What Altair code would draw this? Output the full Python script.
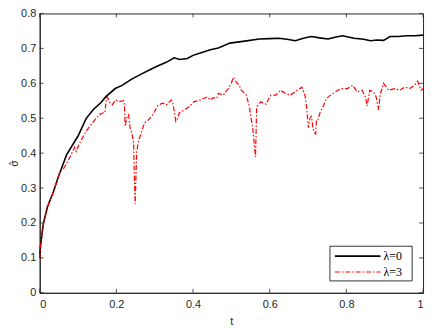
import altair as alt
import pandas as pd

# lambda = 0 (black solid)
t0 = [0.000, 0.002, 0.006, 0.010, 0.020, 0.036, 0.049, 0.070, 0.100, 0.121, 0.140, 0.160,
      0.172, 0.197, 0.215, 0.240, 0.266, 0.290, 0.309, 0.330, 0.351, 0.365, 0.385, 0.400,
      0.419, 0.445, 0.466, 0.496, 0.530, 0.573, 0.600, 0.624, 0.645, 0.667, 0.690, 0.709,
      0.730, 0.752, 0.770, 0.790, 0.820, 0.845, 0.863, 0.880, 0.897, 0.914, 0.935, 0.957,
      0.980, 1.000]
s0 = [0.100, 0.132, 0.170, 0.200, 0.245, 0.290, 0.333, 0.395, 0.449, 0.499, 0.525, 0.545,
      0.561, 0.585, 0.594, 0.612, 0.627, 0.640, 0.650, 0.660, 0.673, 0.668, 0.671, 0.680,
      0.687, 0.696, 0.701, 0.715, 0.720, 0.727, 0.728, 0.729, 0.726, 0.722, 0.730, 0.734,
      0.730, 0.727, 0.732, 0.736, 0.729, 0.726, 0.722, 0.724, 0.723, 0.734, 0.734, 0.736,
      0.736, 0.738]

# lambda = 3 (red dash-dot)
t3 = [0.000, 0.002, 0.006, 0.010, 0.020, 0.036, 0.049, 0.053, 0.060, 0.070, 0.083, 0.091,
      0.095, 0.105, 0.121, 0.140, 0.155, 0.164, 0.170, 0.174, 0.176, 0.183, 0.189, 0.198,
      0.210, 0.219, 0.221, 0.223, 0.228, 0.232, 0.236, 0.240, 0.245, 0.247, 0.249, 0.251,
      0.253, 0.257, 0.262, 0.268, 0.274, 0.283, 0.292, 0.300, 0.309, 0.321, 0.330, 0.343,
      0.347, 0.351, 0.355, 0.360, 0.364, 0.377, 0.390, 0.402, 0.419, 0.437, 0.445, 0.453,
      0.462, 0.466, 0.479, 0.492, 0.500, 0.505, 0.513, 0.520, 0.526, 0.539, 0.547, 0.556,
      0.563, 0.566, 0.577, 0.590, 0.603, 0.616, 0.628, 0.641, 0.654, 0.671, 0.684, 0.692,
      0.696, 0.701, 0.705, 0.709, 0.713, 0.716, 0.720, 0.722, 0.726, 0.731, 0.739, 0.748,
      0.765, 0.786, 0.803, 0.816, 0.829, 0.841, 0.850, 0.854, 0.861, 0.871, 0.878, 0.884,
      0.888, 0.897, 0.910, 0.927, 0.939, 0.952, 0.965, 0.978, 0.986, 0.995, 1.000]
s3 = [0.100, 0.132, 0.170, 0.200, 0.245, 0.290, 0.333, 0.348, 0.352, 0.370, 0.398, 0.417,
      0.405, 0.430, 0.463, 0.490, 0.510, 0.515, 0.515, 0.557, 0.561, 0.545, 0.538, 0.552,
      0.548, 0.550, 0.540, 0.477, 0.505, 0.510, 0.470, 0.459, 0.430, 0.330, 0.254, 0.330,
      0.403, 0.430, 0.449, 0.470, 0.487, 0.495, 0.505, 0.520, 0.538, 0.543, 0.538, 0.552,
      0.545, 0.520, 0.491, 0.500, 0.515, 0.524, 0.533, 0.547, 0.552, 0.561, 0.552, 0.559,
      0.557, 0.571, 0.566, 0.585, 0.600, 0.617, 0.603, 0.595, 0.580, 0.566, 0.533, 0.468,
      0.389, 0.533, 0.547, 0.540, 0.566, 0.566, 0.580, 0.571, 0.566, 0.580, 0.589, 0.566,
      0.533, 0.473, 0.500, 0.505, 0.470, 0.459, 0.455, 0.496, 0.496, 0.515, 0.533, 0.557,
      0.571, 0.585, 0.585, 0.594, 0.575, 0.580, 0.560, 0.535, 0.580, 0.575, 0.560, 0.524,
      0.566, 0.600, 0.580, 0.585, 0.580, 0.589, 0.585, 0.594, 0.606, 0.580, 0.585]

x_ticks = [0, 0.2, 0.4, 0.6, 0.8, 1.0]
y_ticks = [0, 0.1, 0.2, 0.3, 0.4, 0.5, 0.6, 0.7, 0.8]
legend_labels = ["λ=0", "λ=3"]

W, H = 387, 282
AX = "#262626"

df0 = pd.DataFrame({"t": t0, "s": s0})
df3 = pd.DataFrame({"t": t3, "s": s3})

xs = alt.Scale(domain=[0, 1], nice=False, zero=False)
ys = alt.Scale(domain=[0, 0.8], nice=False, zero=False)

xax = alt.Axis(values=x_ticks, format="~g", ticks=False, grid=False, title="t",
               labelPadding=6, titlePadding=6, domainColor=AX)
yax = alt.Axis(values=y_ticks, format="~g", ticks=False, grid=False, title="σ̂",
               labelPadding=4, domainColor=AX, titleFont="DejaVu Sans",
               titleFontSize=10, titleX=-25, titleY=H / 2 + 10, titleAngle=270,
               titleAlign="center", titleBaseline="middle")

black = alt.Chart(df0).mark_line(color="#000000", strokeWidth=1.6).encode(
    x=alt.X("t:Q", scale=xs, axis=xax),
    y=alt.Y("s:Q", scale=ys, axis=yax),
)
red = alt.Chart(df3).mark_line(color="#ff0000", strokeWidth=1.2, strokeDash=[5, 2, 1.5, 2]).encode(
    x=alt.X("t:Q", scale=xs, axis=xax),
    y=alt.Y("s:Q", scale=ys, axis=yax),
)

dfx = pd.DataFrame({"t": x_ticks})
dfy = pd.DataFrame({"s": y_ticks})
tb = alt.Chart(dfx).mark_rule(color=AX, strokeWidth=0.8).encode(
    x=alt.X("t:Q", scale=xs, axis=xax), y=alt.value(H), y2=alt.value(H - 4))
tt = alt.Chart(dfx).mark_rule(color=AX, strokeWidth=0.8).encode(
    x=alt.X("t:Q", scale=xs, axis=xax), y=alt.value(0), y2=alt.value(4))
tl = alt.Chart(dfy).mark_rule(color=AX, strokeWidth=0.8).encode(
    y=alt.Y("s:Q", scale=ys, axis=yax), x=alt.value(0), x2=alt.value(4))
tr = alt.Chart(dfy).mark_rule(color=AX, strokeWidth=0.8).encode(
    y=alt.Y("s:Q", scale=ys, axis=yax), x=alt.value(W), x2=alt.value(W - 4))

# legend
one = pd.DataFrame({"k": [0]})
lx0, lx1, ly0, ly1 = W - 94, W - 11, H - 47, H - 12
lbox = alt.Chart(one).mark_rect(fill="white", stroke="#000000", strokeWidth=0.8).encode(
    x=alt.value(lx0), x2=alt.value(lx1), y=alt.value(ly0), y2=alt.value(ly1))
l1 = alt.Chart(one).mark_rule(color="#000000", strokeWidth=1.6).encode(
    x=alt.value(lx0 + 5), x2=alt.value(lx0 + 51), y=alt.value(ly0 + 10))
l2 = alt.Chart(one).mark_rule(color="#ff0000", strokeWidth=1.2, strokeDash=[5, 2, 1.5, 2]).encode(
    x=alt.value(lx0 + 5), x2=alt.value(lx0 + 51), y=alt.value(ly0 + 26))
t1 = alt.Chart(pd.DataFrame({"lab": [legend_labels[0]]})).mark_text(
    align="left", baseline="middle", font="Liberation Serif", fontSize=12, color="#000000").encode(
    x=alt.value(lx0 + 54), y=alt.value(ly0 + 10), text="lab:N")
t2 = alt.Chart(pd.DataFrame({"lab": [legend_labels[1]]})).mark_text(
    align="left", baseline="middle", font="Liberation Serif", fontSize=12, color="#000000").encode(
    x=alt.value(lx0 + 54), y=alt.value(ly0 + 26), text="lab:N")

chart = alt.layer(black, red, tb, tt, tl, tr, lbox, l1, l2, t1, t2).properties(
    width=W, height=H,
    autosize=alt.AutoSizeParams(type="none"),
    padding={"left": 32, "top": 4, "right": 5, "bottom": 32},
).configure_view(stroke=AX, strokeWidth=1).configure_axis(
    labelFont="Liberation Sans", labelFontSize=11, labelColor=AX,
    titleFont="Liberation Sans", titleFontSize=11, titleColor=AX, titleFontWeight="normal",
    domainWidth=1,
)

chart.save("out.html", embed_options={"renderer": "svg", "actions": False})
